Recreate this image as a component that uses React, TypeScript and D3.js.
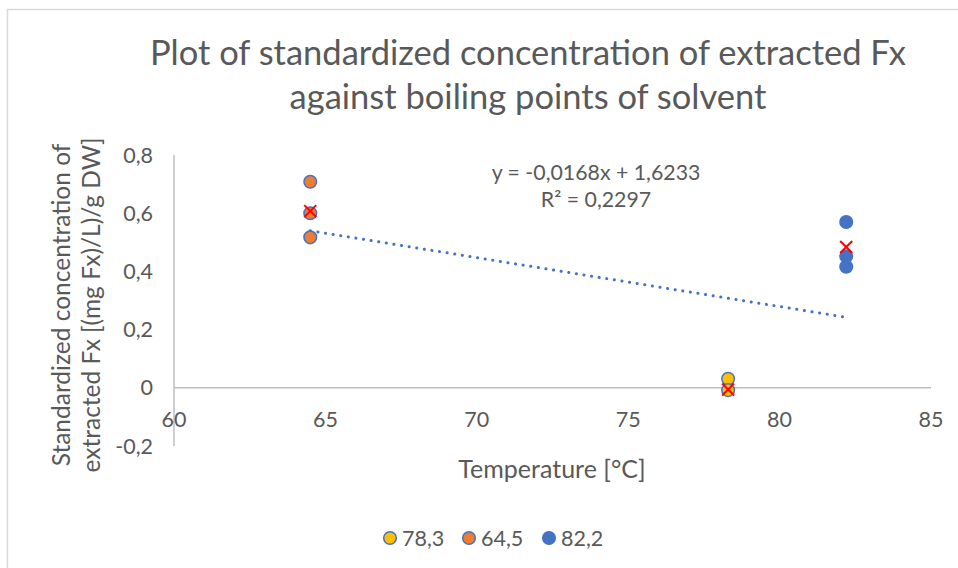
import React from "react";
import * as d3 from "d3";

// Boiling points of the solvents (°C) and measured standardized concentrations
const series = [
  { name: "78,3", x: 78.3, values: [0.031, -0.008], fill: "#FFC000", stroke: "#4472C4" },
  { name: "64,5", x: 64.5, values: [0.708, 0.6, 0.517], fill: "#ED7D31", stroke: "#4472C4" },
  { name: "82,2", x: 82.2, values: [0.57, 0.452, 0.416], fill: "#4472C4", stroke: "#4472C4" },
];

// Mean concentration per solvent, shown with red crosses
const meanX = [64.5, 78.3, 82.2];
const meanY = [0.607, -0.006, 0.484];

const xTicks = [60, 65, 70, 75, 80, 85];
const yTicks = [-0.2, 0, 0.2, 0.4, 0.6, 0.8];

// Linear trendline y = slope * x + intercept
const slope = -0.0168;
const intercept = 1.6233;
const trendRange = [64.5, 82.2];

const W = 958;
const H = 568;
const FONT = "Lato, 'Open Sans', sans-serif";
const TEXT = "#595959";

export default function App() {
  const x = d3.scaleLinear().domain([60, 85]).range([174, 931]);
  const y = d3.scaleLinear().domain([-0.2, 0.8]).range([446, 155]);
  const fmt = (v: number) =>
    Math.abs(v) < 1e-9 ? "0" : d3.format(".1f")(v).replace(".", ",").replace("\u2212", "-");

  const trend = d3.line<number>()
    .x((d) => x(d))
    .y((d) => y(slope * d + intercept));

  const legendItems = [
    { s: series[0], cx: 390 },
    { s: series[1], cx: 469 },
    { s: series[2], cx: 549 },
  ];

  return (
    <svg width={W} height={H} style={{ position: "absolute", left: 0, top: 0 }} fontFamily={FONT}>
      <rect x={0} y={0} width={W} height={H} fill="#fff" />
      {/* chart frame */}
      <path d={`M7.5,${H} V9.5 H${W}`} fill="none" stroke="#D9D9D9" strokeWidth={1.5} />

      {/* title */}
      <text x={528} y={65} textAnchor="middle" fontSize={34.5} fill={TEXT}>
        Plot of standardized concentration of extracted Fx
      </text>
      <text x={528} y={109} textAnchor="middle" fontSize={34.5} fill={TEXT}>
        against boiling points of solvent
      </text>

      {/* axes */}
      <line x1={x(60)} x2={x(60)} y1={y(0.8)} y2={y(-0.2)} stroke="#BFBFBF" strokeWidth={1.5} />
      <line x1={x(60)} x2={x(85)} y1={y(0)} y2={y(0)} stroke="#BFBFBF" strokeWidth={1.5} />

      {yTicks.map((t) => (
        <text key={t} x={153} y={y(t) + 7.5} textAnchor="end" fontSize={21.5} fill={TEXT}>
          {fmt(t)}
        </text>
      ))}
      {xTicks.map((t) => (
        <text key={t} x={x(t)} y={y(0) + 39} textAnchor="middle" fontSize={21.5} fill={TEXT}>
          {t}
        </text>
      ))}

      {/* axis titles */}
      <text x={552} y={478} textAnchor="middle" fontSize={25} fill={TEXT}>
        Temperature [°C]
      </text>
      <g transform="translate(0,305) rotate(-90)" fontSize={24.5} fill={TEXT}>
        <text x={0} y={70} textAnchor="middle">Standardized concentration of</text>
        <text x={0} y={100} textAnchor="middle">extracted Fx [(mg Fx)/L)/g DW]</text>
      </g>

      {/* trendline */}
      <path
        d={trend(trendRange) || ""}
        fill="none"
        stroke="#4472C4"
        strokeWidth={3}
        strokeDasharray="0.1 7.6"
        strokeLinecap="round"
      />

      {/* points */}
      {series.map((s) =>
        s.values.map((v, i) => (
          <circle
            key={s.name + i}
            cx={x(s.x)}
            cy={y(v)}
            r={6.3}
            fill={s.fill}
            stroke={s.stroke}
            strokeWidth={1.5}
          />
        ))
      )}

      {/* means */}
      {meanX.map((mx, i) => {
        const cx = x(mx);
        const cy = y(meanY[i]);
        const d = 6;
        return (
          <g key={i} stroke="#FF0000" strokeWidth={2}>
            <line x1={cx - d} y1={cy - d} x2={cx + d} y2={cy + d} />
            <line x1={cx - d} y1={cy + d} x2={cx + d} y2={cy - d} />
          </g>
        );
      })}

      {/* equation */}
      <text x={596} y={180} textAnchor="middle" fontSize={21.3} fill={TEXT}>
        y = -0,0168x + 1,6233
      </text>
      <text x={596} y={207} textAnchor="middle" fontSize={21.3} fill={TEXT}>
        R² = 0,2297
      </text>

      {/* legend */}
      {legendItems.map(({ s, cx }) => (
        <g key={s.name}>
          <circle cx={cx} cy={538} r={6.3} fill={s.fill} stroke={s.stroke} strokeWidth={1.5} />
          <text x={cx + 12} y={545.5} fontSize={21.5} fill={TEXT}>
            {s.name}
          </text>
        </g>
      ))}
    </svg>
  );
}
